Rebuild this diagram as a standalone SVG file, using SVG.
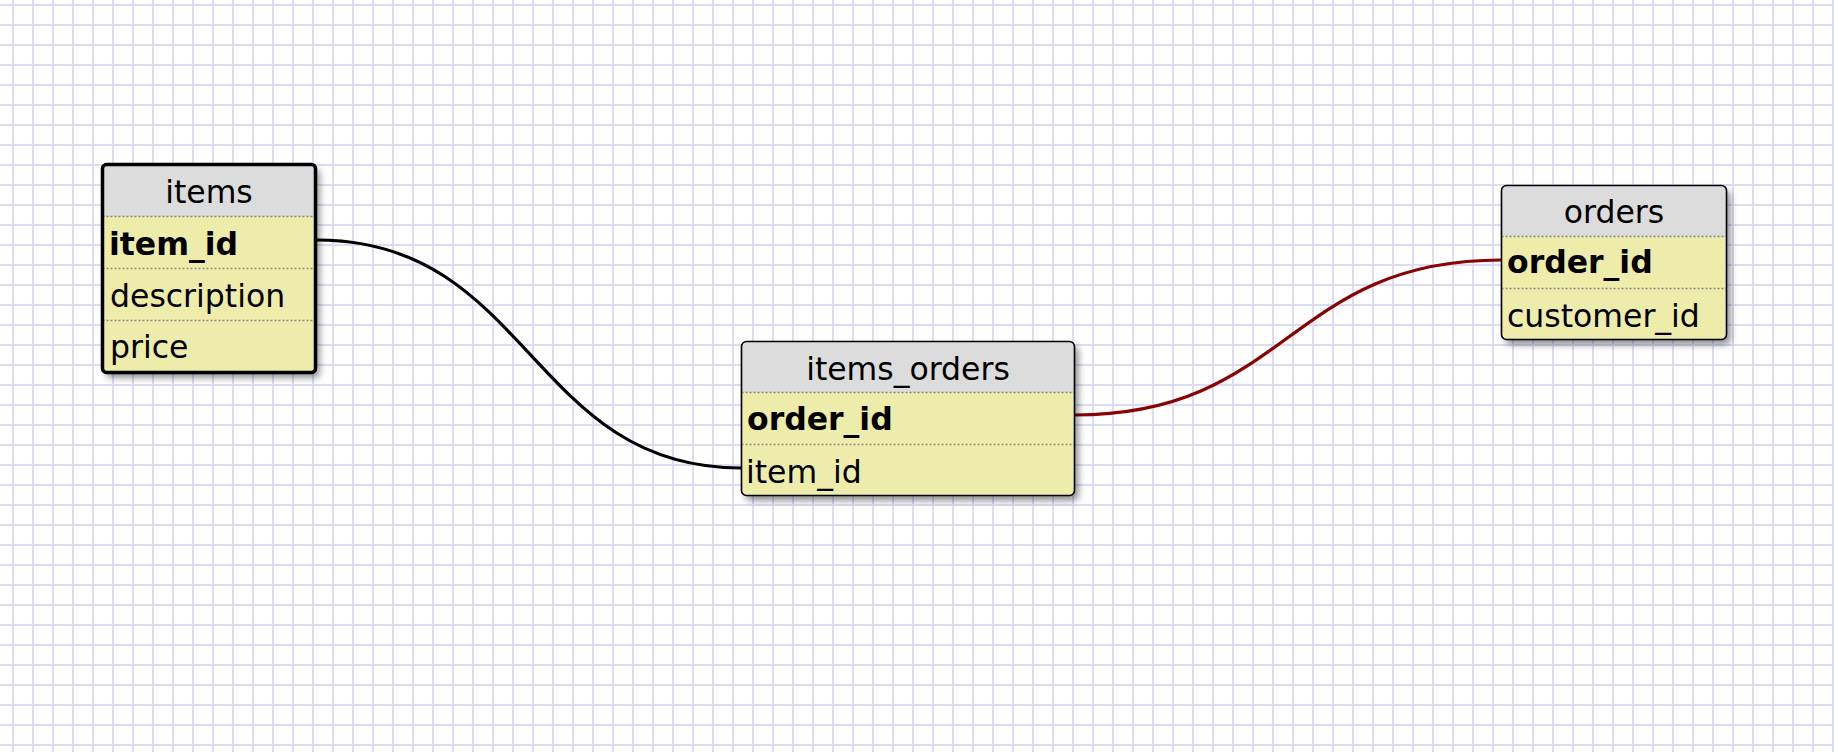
<svg xmlns="http://www.w3.org/2000/svg" width="1834" height="752" viewBox="0 0 1834 752">
<style>
.t{font-family:"DejaVu Sans","Noto Sans",sans-serif;font-size:31.5px;fill:#000}
.b{font-weight:bold;font-size:31.5px}
.h{fill:#dcdcdc}
.r{fill:#eeecaa}
.sep{stroke:#888;stroke-width:1.6;stroke-dasharray:2 2}
.box{fill:none;stroke:#000;stroke-width:1.6}
.sel{fill:none;stroke:#000;stroke-width:3.5}
.conn{fill:none;stroke-width:3.2}
</style>
<defs>
<pattern id="grid" x="3" y="-5" width="20" height="20" patternUnits="userSpaceOnUse">
<rect width="20" height="20" fill="#fff"/>
<rect x="9" y="0" width="2" height="20" fill="#dcdcf4"/>
<rect x="0" y="9" width="20" height="2" fill="#dcdcf4"/>
</pattern>
<filter id="sh" x="-10%" y="-10%" width="130%" height="130%">
<feDropShadow dx="4" dy="5" stdDeviation="3.5" flood-color="#000" flood-opacity="0.45"/>
</filter>
</defs>
<rect width="1834" height="752" fill="url(#grid)"/>
<g id="connectors">
<path class="conn" stroke="#000" d="M317,240 C530,240 530,468 741,468"/>
<path class="conn" stroke="#8b0000" d="M1075,415 C1288,415 1288,260 1501,260"/>
</g>
<g id="items">
<g filter="url(#sh)"><rect x="102.5" y="164.5" width="213" height="208" rx="4" fill="#eeecaa"/></g>
<path class="h" d="M102.5,216.5 V168.5 a4,4 0 0 1 4,-4 H311.5 a4,4 0 0 1 4,4 V216.5 Z"/>
<line class="sep" x1="102.5" y1="216.5" x2="315.5" y2="216.5"/>
<line class="sep" x1="102.5" y1="268.5" x2="315.5" y2="268.5"/>
<line class="sep" x1="102.5" y1="320.5" x2="315.5" y2="320.5"/>
<rect class="sel" x="102.5" y="164.5" width="213" height="208" rx="4"/>
<text class="t" x="209" y="203" text-anchor="middle">items</text>
<text class="t b" x="109" y="255">item_id</text>
<text class="t" x="110" y="307">description</text>
<text class="t" x="110" y="358">price</text>
</g>
<g id="items_orders">
<g filter="url(#sh)"><rect x="741.5" y="341.5" width="333" height="154" rx="5" fill="#eeecaa"/></g>
<path class="h" d="M741.5,392.5 V346.5 a5,5 0 0 1 5,-5 H1069.5 a5,5 0 0 1 5,5 V392.5 Z"/>
<line class="sep" x1="741.5" y1="392.5" x2="1074.5" y2="392.5"/>
<line class="sep" x1="741.5" y1="444.5" x2="1074.5" y2="444.5"/>
<rect class="box" x="741.5" y="341.5" width="333" height="154" rx="5"/>
<text class="t" x="908" y="380" text-anchor="middle">items_orders</text>
<text class="t b" x="747" y="430">order_id</text>
<text class="t" x="746" y="483">item_id</text>
</g>
<g id="orders">
<g filter="url(#sh)"><rect x="1501.5" y="185.5" width="225" height="154" rx="5" fill="#eeecaa"/></g>
<path class="h" d="M1501.5,236.5 V190.5 a5,5 0 0 1 5,-5 H1721.5 a5,5 0 0 1 5,5 V236.5 Z"/>
<line class="sep" x1="1501.5" y1="236.5" x2="1726.5" y2="236.5"/>
<line class="sep" x1="1501.5" y1="288.5" x2="1726.5" y2="288.5"/>
<rect class="box" x="1501.5" y="185.5" width="225" height="154" rx="5"/>
<text class="t" x="1614" y="223" text-anchor="middle">orders</text>
<text class="t b" x="1507" y="273">order_id</text>
<text class="t" x="1507" y="327">customer_id</text>
</g>
</svg>
